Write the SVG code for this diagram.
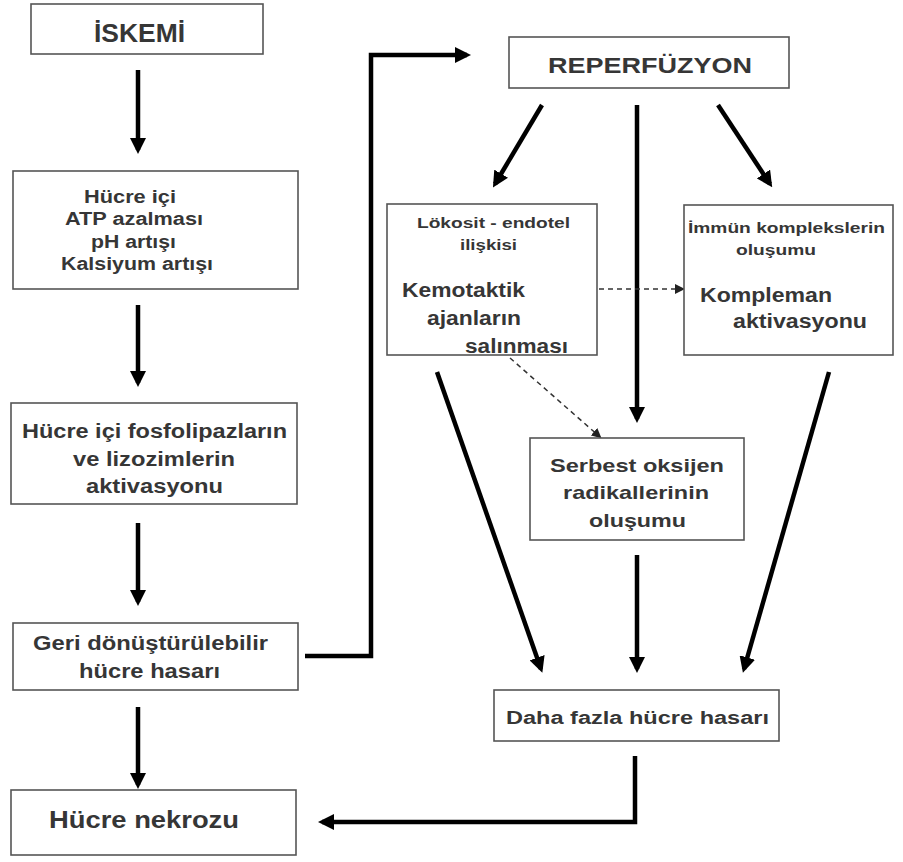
<svg xmlns="http://www.w3.org/2000/svg" width="903" height="862" viewBox="0 0 903 862">
<style>
.box{fill:#fff;stroke:#555;stroke-width:1.6}
.ts{font-family:"Liberation Sans",Arial,sans-serif;font-weight:bold;fill:#363636}
.arr{fill:none;stroke:#000;stroke-width:4.5;marker-end:url(#ah)}
.dash{fill:none;stroke:#333;stroke-width:1.5;stroke-dasharray:5,4;marker-end:url(#dh)}
</style>
<defs>
<marker id="ah" markerUnits="userSpaceOnUse" viewBox="0 0 16 16" refX="12" refY="8" markerWidth="16" markerHeight="16" orient="auto">
<path d="M0,0 L16,8 L0,16 z" fill="#000"/>
</marker>
<marker id="dh" markerUnits="userSpaceOnUse" viewBox="0 0 10 10" refX="8" refY="5" markerWidth="10" markerHeight="10" orient="auto">
<path d="M0,0 L10,5 L0,10 z" fill="#222"/>
</marker>
</defs>
<rect width="903" height="862" fill="#fff"/>
<g id="connectors">
<path class="arr" d="M138,70 L138,150"/>
<path class="arr" d="M138,305 L138,383"/>
<path class="arr" d="M138,523 L138,602"/>
<path class="arr" d="M138,707 L138,785"/>
<path class="arr" d="M305,656 L371,656 L371,55 L467,55"/>
<path class="arr" d="M635,756 L635,822 L322,822"/>
<path class="arr" d="M542,105 L495,184"/>
<path class="arr" d="M718,105 L770,184"/>
<path class="arr" d="M637,105 L637,419"/>
<path class="arr" d="M437,372 L541,669"/>
<path class="arr" d="M829,372 L744,669"/>
<path class="arr" d="M637,555 L637,669"/>
<path class="dash" d="M599,289 L683,289"/>
<path class="dash" d="M510,358 L600,437"/>
</g>
<g id="iskemi">
<rect class="box" x="31" y="4" width="232" height="50"/>
<text class="ts" x="94" y="42" font-size="25" textLength="91" lengthAdjust="spacingAndGlyphs">İSKEMİ</text>
</g>
<g id="hucre-ici">
<rect class="box" x="13" y="171" width="285" height="118"/>
<text class="ts" x="84" y="203" font-size="18" textLength="92" lengthAdjust="spacingAndGlyphs">Hücre içi</text>
<text class="ts" x="65" y="225" font-size="18" textLength="138" lengthAdjust="spacingAndGlyphs">ATP azalması</text>
<text class="ts" x="91" y="248" font-size="18" textLength="85" lengthAdjust="spacingAndGlyphs">pH artışı</text>
<text class="ts" x="61" y="270" font-size="18" textLength="152" lengthAdjust="spacingAndGlyphs">Kalsiyum artışı</text>
</g>
<g id="fosfolipaz">
<rect class="box" x="11" y="403" width="286" height="101"/>
<text class="ts" x="22" y="438" font-size="20" textLength="265" lengthAdjust="spacingAndGlyphs">Hücre içi fosfolipazların</text>
<text class="ts" x="73" y="466" font-size="20" textLength="162" lengthAdjust="spacingAndGlyphs">ve lizozimlerin</text>
<text class="ts" x="86" y="493" font-size="20" textLength="137" lengthAdjust="spacingAndGlyphs">aktivasyonu</text>
</g>
<g id="geri-donusturulebilir">
<rect class="box" x="13" y="623" width="285" height="67"/>
<text class="ts" x="33" y="650" font-size="20" textLength="235" lengthAdjust="spacingAndGlyphs">Geri dönüştürülebilir</text>
<text class="ts" x="79" y="678" font-size="20" textLength="141" lengthAdjust="spacingAndGlyphs">hücre hasarı</text>
</g>
<g id="nekroz">
<rect class="box" x="11" y="790" width="285" height="65"/>
<text class="ts" x="49" y="828" font-size="23" textLength="190" lengthAdjust="spacingAndGlyphs">Hücre nekrozu</text>
</g>
<g id="reperfuzyon">
<rect class="box" x="509" y="37" width="280" height="51"/>
<text class="ts" x="548" y="73" font-size="22" textLength="204" lengthAdjust="spacingAndGlyphs">REPERFÜZYON</text>
</g>
<g id="lokosit">
<rect class="box" x="387" y="204" width="210" height="151"/>
<text class="ts" x="417" y="228" font-size="14" textLength="153" lengthAdjust="spacingAndGlyphs">Lökosit - endotel</text>
<text class="ts" x="460" y="250" font-size="14" textLength="57" lengthAdjust="spacingAndGlyphs">ilişkisi</text>
<text class="ts" x="402" y="297" font-size="20" textLength="123" lengthAdjust="spacingAndGlyphs">Kemotaktik</text>
<text class="ts" x="427" y="325" font-size="20" textLength="94" lengthAdjust="spacingAndGlyphs">ajanların</text>
<text class="ts" x="465" y="353" font-size="20" textLength="103" lengthAdjust="spacingAndGlyphs">salınması</text>
</g>
<g id="immun">
<rect class="box" x="684" y="205" width="209" height="150"/>
<text class="ts" x="688" y="233" font-size="14" textLength="197" lengthAdjust="spacingAndGlyphs">İmmün komplekslerin</text>
<text class="ts" x="736" y="255" font-size="14" textLength="80" lengthAdjust="spacingAndGlyphs">oluşumu</text>
<text class="ts" x="700" y="302" font-size="20" textLength="132" lengthAdjust="spacingAndGlyphs">Kompleman</text>
<text class="ts" x="733" y="328" font-size="20" textLength="134" lengthAdjust="spacingAndGlyphs">aktivasyonu</text>
</g>
<g id="serbest">
<rect class="box" x="530" y="438" width="214" height="102"/>
<text class="ts" x="550" y="472" font-size="19" textLength="174" lengthAdjust="spacingAndGlyphs">Serbest oksijen</text>
<text class="ts" x="563" y="499" font-size="19" textLength="146" lengthAdjust="spacingAndGlyphs">radikallerinin</text>
<text class="ts" x="589" y="527" font-size="19" textLength="97" lengthAdjust="spacingAndGlyphs">oluşumu</text>
</g>
<g id="daha-fazla">
<rect class="box" x="494" y="690" width="285" height="51"/>
<text class="ts" x="506" y="724" font-size="18" textLength="263" lengthAdjust="spacingAndGlyphs">Daha fazla hücre hasarı</text>
</g>
</svg>
